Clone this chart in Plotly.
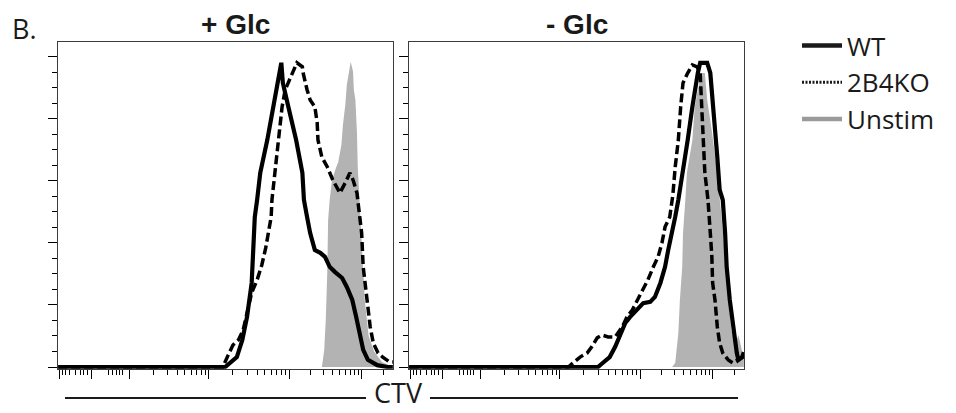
import numpy as np
import plotly.graph_objects as go

# ---------------- data (x: CTV in logicle display units, y: % of max) ----------------
glc_wt_x = [1.08, 3.22, 3.37, 3.44, 3.50, 3.53, 3.56, 3.58, 3.60, 3.63, 3.67, 3.76, 3.83, 3.90, 3.94,
            3.96, 4.03, 4.13, 4.21, 4.23, 4.27, 4.31, 4.37, 4.44, 4.50, 4.56, 4.63, 4.72, 4.78, 4.85,
            4.90, 4.95, 4.99, 5.05, 5.17, 5.30, 5.37]
glc_wt_y = [0, 0, 3.2, 8.7, 16.1, 21.6, 27.1, 37.7, 48.4, 53.9, 62.6, 73.2, 83.9, 92.6, 98.1,
            91.6, 83.9, 73.2, 62.6, 53.9, 48.4, 43.2, 37.7, 36.8, 35.5, 32.3, 30.6, 28.7, 25.8, 21.6,
            16.1, 11.0, 5.5, 2.3, 0.6, 0, 0]

glc_ko_x = [1.08, 3.19, 3.26, 3.32, 3.39, 3.45, 3.51, 3.56, 3.63, 3.69, 3.74, 3.78, 3.81, 3.82, 3.83,
            3.86, 3.90, 3.95, 3.99, 4.08, 4.14, 4.21, 4.22, 4.27, 4.31, 4.37, 4.40, 4.41, 4.46, 4.53,
            4.60, 4.67, 4.69, 4.76, 4.82, 4.86, 4.91, 4.92, 4.95, 4.97, 4.99, 5.04, 5.08, 5.12, 5.18,
            5.24, 5.33, 5.37]
glc_ko_y = [0, 0, 3.9, 7.1, 8.7, 11.9, 18.4, 23.9, 28.1, 32.9, 38.4, 43.5, 48.4, 53.9, 56.1,
            62.6, 73.2, 83.9, 89.4, 94.8, 98.1, 96.8, 94.8, 89.4, 86.1, 83.9, 78.7, 73.2, 67.7, 64.5,
            60.3, 57.1, 56.1, 59.4, 62.6, 60.3, 56.1, 53.9, 48.4, 43.2, 32.3, 21.6, 12.9, 7.7, 4.5,
            3.2, 1.6, 1.6]

glc_un_x = [4.46, 4.49, 4.51, 4.53, 4.54, 4.56, 4.59, 4.62, 4.64, 4.67, 4.71, 4.73, 4.76, 4.78, 4.81,
            4.83, 4.86, 4.87, 4.89, 4.91, 4.92, 4.94, 4.97, 5.01, 5.06, 5.13, 5.23, 5.33, 5.37]
glc_un_y = [0, 5.5, 15.2, 31.3, 47.4, 53.9, 60.3, 62.9, 64.2, 66.1, 71.6, 78.1, 84.5, 91.0, 96.5,
            98.4, 95.2, 89.4, 86.1, 75.5, 64.5, 53.9, 37.7, 21.6, 10.0, 5.0, 1.6, 0.3, 0]

noglc_wt_x = [1.08, 3.50, 3.56, 3.65, 3.72, 3.78, 3.85, 3.91, 4.00, 4.08, 4.17, 4.23, 4.30, 4.36, 4.40,
              4.45, 4.49, 4.53, 4.59, 4.65, 4.71, 4.74, 4.78, 4.81, 4.90, 4.94, 4.96, 4.99, 5.03, 5.06,
              5.10, 5.13, 5.15, 5.19, 5.23, 5.26, 5.28, 5.30, 5.35, 5.37]
noglc_wt_y = [0, 0, 1.3, 3.2, 6.5, 9.7, 14.2, 16.1, 18.4, 20.6, 21.0, 22.6, 27.1, 32.3, 37.7,
              43.2, 48.4, 53.9, 62.6, 73.2, 83.9, 89.4, 94.8, 98.1, 98.1, 94.8, 89.4, 78.7, 67.7, 57.1,
              53.9, 43.2, 32.3, 21.6, 12.9, 7.7, 4.5, 2.3, 3.2, 4.8]

noglc_ko_x = [1.08, 3.12, 3.18, 3.27, 3.36, 3.42, 3.49, 3.55, 3.63, 3.72, 3.81, 3.87, 3.94, 4.01, 4.08,
              4.14, 4.21, 4.27, 4.32, 4.36, 4.42, 4.46, 4.49, 4.53, 4.56, 4.59, 4.65, 4.71, 4.77, 4.81,
              4.83, 4.85, 4.87, 4.90, 4.91, 4.94, 4.96, 4.97, 5.00, 5.03, 5.06, 5.10, 5.17, 5.23, 5.30,
              5.35, 5.37]
noglc_ko_y = [0, 0, 1.3, 3.2, 4.5, 6.5, 9.4, 10.3, 9.7, 9.7, 12.9, 16.1, 18.4, 21.6, 24.8,
              28.1, 32.3, 35.5, 40.0, 45.2, 48.4, 55.5, 64.5, 73.2, 83.9, 91.6, 94.8, 97.4, 96.8, 94.8,
              83.9, 73.2, 62.6, 56.1, 53.9, 43.2, 35.5, 27.1, 21.6, 12.9, 7.7, 4.5, 2.3, 1.3, 2.3,
              3.2, 3.9]

noglc_un_x = [4.45, 4.49, 4.53, 4.55, 4.58, 4.59, 4.62, 4.64, 4.71, 4.74, 4.78, 4.83, 4.87, 4.90, 4.96,
              5.01, 5.05, 5.09, 5.13, 5.17, 5.21, 5.26, 5.30, 5.33, 5.37]
noglc_un_y = [0, 1.3, 10.9, 21.6, 32.3, 43.2, 53.9, 62.6, 73.2, 83.9, 89.4, 94.8, 94.8, 86.1, 76.1,
              66.5, 56.8, 47.1, 34.2, 21.6, 11.9, 7.1, 10.3, 7.1, 2.3]

panel_titles = ["+ Glc", "- Glc"]
series_names = ["WT", "2B4KO", "Unstim"]
x_axis_title = "CTV"
panel_label = "B."

# axis tick positions (display units), no tick labels in the original
x_major = [1.10, 1.51, 1.99, 3.01, 4.04, 4.97]
x_minor_linear = [1.13, 1.17, 1.23, 1.30, 1.36, 1.40, 1.45, 1.72, 1.78, 1.83, 1.87, 1.91]
y_major = [0, 20, 40, 60, 80, 100]

# ---------------- figure ----------------
W, H = 956, 413
px = lambda v: v / W
py = lambda v: 1 - v / H

decades = [(1.99, 3.01), (3.01, 4.04), (4.04, 4.97), (4.97, 5.90)]
x_minor = list(x_minor_linear)
for a, b in decades:
    for k in range(2, 10):
        v = a + (b - a) * np.log10(k)
        if v < 5.37:
            x_minor.append(round(float(v), 3))
y_minor = [v for v in range(0, 105, 5) if v not in y_major]

X_RANGE = [1.077, 5.372]
Y_RANGE = [-0.6, 104.8]

BLACK = "#000000"
GRAY_FILL = "#b3b3b3"
FRAME = "#3c3c3c"

fig = go.Figure()

panels = [
    (glc_wt_x, glc_wt_y, glc_ko_x, glc_ko_y, glc_un_x, glc_un_y),
    (noglc_wt_x, noglc_wt_y, noglc_ko_x, noglc_ko_y, noglc_un_x, noglc_un_y),
]
for i, (wx, wy, kx, ky, ux, uy) in enumerate(panels):
    xa = "x" if i == 0 else "x2"
    ya = "y" if i == 0 else "y2"
    fig.add_trace(go.Scatter(x=ux, y=uy, mode="lines", fill="tozeroy", fillcolor=GRAY_FILL,
                             line=dict(width=0, color=GRAY_FILL), xaxis=xa, yaxis=ya,
                             showlegend=False, name=series_names[2]))
    fig.add_trace(go.Scatter(x=kx, y=ky, mode="lines", line=dict(color=BLACK, width=3.5, dash="9px,4px"),
                             xaxis=xa, yaxis=ya, showlegend=False, name=series_names[1]))
    fig.add_trace(go.Scatter(x=wx, y=wy, mode="lines", line=dict(color=BLACK, width=4.2),
                             xaxis=xa, yaxis=ya, showlegend=False, name=series_names[0]))

# legend-only entries
fig.add_trace(go.Scatter(x=[None], y=[None], mode="lines", name=series_names[0],
                         line=dict(color="#1a1a1a", width=4.5)))
fig.add_trace(go.Scatter(x=[None], y=[None], mode="lines", name=series_names[1],
                         line=dict(color="#1a1a1a", width=3, dash="2px,1.5px")))
fig.add_trace(go.Scatter(x=[None], y=[None], mode="lines", name=series_names[2],
                         line=dict(color="#9a9a9a", width=4.5)))

y_bottom_px = 367 + 0.6 * 3.1
common_x = dict(range=X_RANGE, showgrid=False, zeroline=False, showticklabels=False,
                ticks="outside", ticklen=9, tickwidth=1, tickcolor=BLACK, tickvals=x_major,
                minor=dict(tickvals=x_minor, ticks="outside", ticklen=5, tickwidth=1, tickcolor=BLACK),
                showline=True, linecolor=FRAME, linewidth=1, mirror=True)
common_y = dict(range=Y_RANGE, showgrid=False, zeroline=False, showticklabels=False,
                ticks="outside", ticklen=9, tickwidth=1, tickcolor=BLACK, tickvals=y_major,
                minor=dict(tickvals=y_minor, ticks="outside", ticklen=5, tickwidth=1, tickcolor=BLACK),
                showline=True, linecolor=FRAME, linewidth=1, mirror=True,
                domain=[py(y_bottom_px), py(42)])

fig.update_layout(
    width=W, height=H, margin=dict(l=0, r=0, t=0, b=0),
    paper_bgcolor="white", plot_bgcolor="white",
    xaxis=dict(common_x, domain=[px(58), px(393)], anchor="y"),
    xaxis2=dict(common_x, domain=[px(409), px(744)], anchor="y2"),
    yaxis=dict(common_y, anchor="x"),
    yaxis2=dict(common_y, anchor="x2"),
    showlegend=True,
    legend=dict(x=px(797), y=py(22), xanchor="left", yanchor="top",
                font=dict(family="Open Sans", size=26, color="#1a1a1a"),
                bgcolor="rgba(0,0,0,0)", tracegroupgap=0, itemwidth=40),
)

# panel titles
for cx, t in zip([235, 577], panel_titles):
    fig.add_annotation(x=px(cx), y=py(24), xref="paper", yref="paper", text=f"<b>{t}</b>",
                       showarrow=False, xanchor="center", yanchor="middle",
                       font=dict(family="Liberation Sans", size=28, color="#1a1a1a"))
# panel letter
fig.add_annotation(x=px(10), y=py(28), xref="paper", yref="paper", text=panel_label,
                   showarrow=False, xanchor="left", yanchor="middle",
                   font=dict(family="Open Sans", size=27, color="#1a1a1a"))
# shared x title with flanking rules
fig.add_annotation(x=px(398), y=0, xref="paper", yref="paper", text=x_axis_title,
                   showarrow=False, xanchor="center", yanchor="bottom",
                   font=dict(family="Open Sans", size=27, color="#1a1a1a"))
for x0, x1 in [(65, 366), (430, 738)]:
    fig.add_shape(type="line", xref="paper", yref="paper", x0=px(x0), x1=px(x1),
                  y0=py(398), y1=py(398), line=dict(color="#1a1a1a", width=2))

fig.write_html("out.html", config={"displayModeBar": False},
               post_script="document.body.style.margin='0';")
